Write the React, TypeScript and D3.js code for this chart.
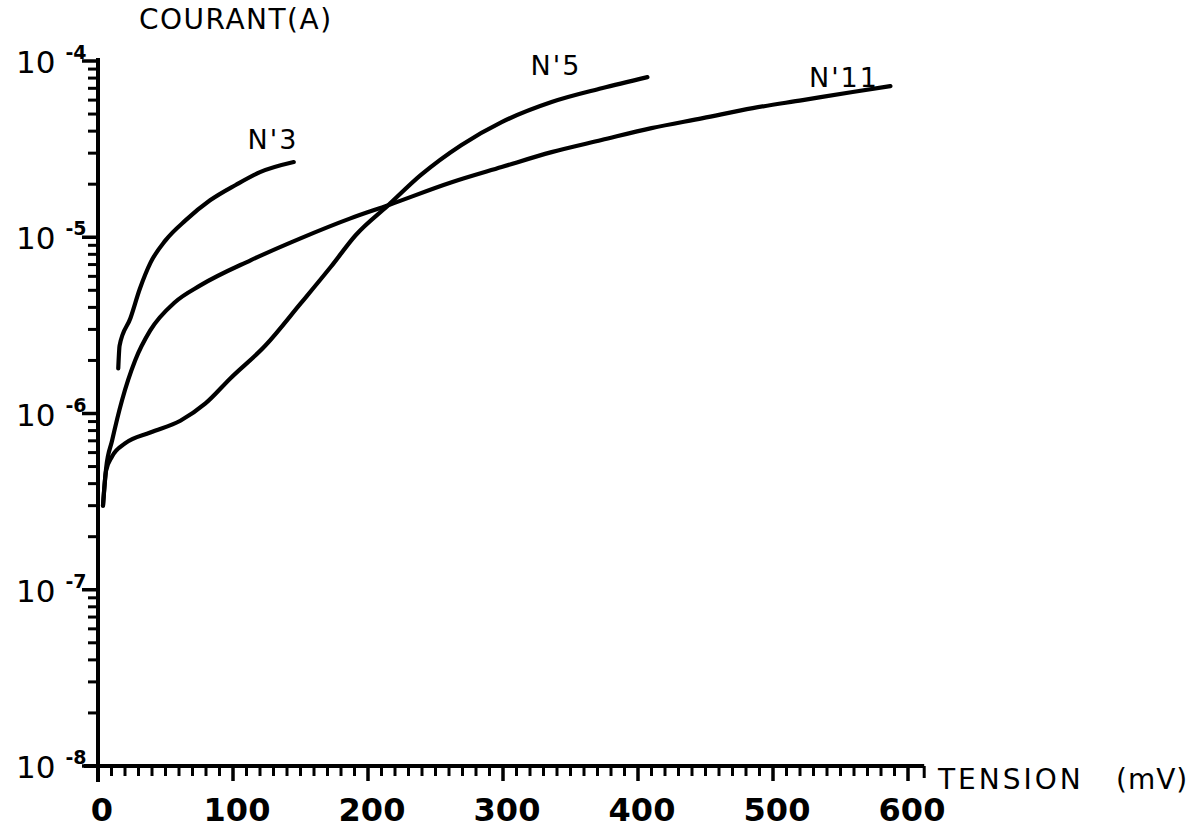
import * as d3 from 'd3';

type Pt = { v: number; i: number };

// tension (mV) / courant (A)
const n3Tension = [15, 16, 24, 31, 39, 50, 65, 83, 102, 120, 145];
const n3Courant = [1.8e-6, 2.43e-6, 3.47e-6, 5.1e-6, 7.2e-6, 9.6e-6, 1.25e-5, 1.62e-5, 1.98e-5, 2.34e-5, 2.67e-5];

const n5Tension = [3.7, 6, 10.4, 20, 38.7, 61, 79.6, 98, 124, 150, 172.5, 191, 215, 239, 269, 299, 336, 373, 407];
const n5Courant = [
  3.0e-7, 4.74e-7, 5.7e-7, 6.76e-7, 7.8e-7, 9.1e-7, 1.14e-6, 1.58e-6, 2.43e-6, 4.2e-6, 6.8e-6, 1.03e-5, 1.52e-5,
  2.25e-5, 3.33e-5, 4.5e-5, 5.85e-5, 7.0e-5, 8.1e-5,
];

const n11Tension = [3.7, 6, 10.4, 17.8, 27.5, 38.7, 57, 75.8, 113, 150, 187, 215, 262, 299, 336, 373, 410, 448, 485, 522, 559, 587];
const n11Courant = [
  3.0e-7, 4.87e-7, 7.0e-7, 1.19e-6, 2.0e-6, 2.96e-6, 4.28e-6, 5.33e-6, 7.4e-6, 9.86e-6, 1.28e-5, 1.52e-5, 2.05e-5,
  2.5e-5, 3.04e-5, 3.56e-5, 4.16e-5, 4.74e-5, 5.4e-5, 6.0e-5, 6.67e-5, 7.2e-5,
];

const curveLabels = ["N'3", "N'5", "N'11"];
const xTickLabels = [0, 100, 200, 300, 400, 500, 600];
const yExponents = [-4, -5, -6, -7, -8];

const font = '"DejaVu Sans", "Liberation Sans", sans-serif';

function zip(vs: number[], is: number[]): Pt[] {
  return vs.map((v, k) => ({ v, i: is[k] }));
}

export default function App() {
  const width = 1195;
  const height = 832;
  const x = d3.scaleLinear().domain([0, 600]).range([98, 908]);
  const y = d3.scaleLog().domain([1e-8, 1e-4]).range([766, 61]);

  const line = d3
    .line<Pt>()
    .x((d) => x(d.v))
    .y((d) => y(d.i))
    .curve(d3.curveMonotoneX);

  const series = [
    { name: curveLabels[0], pts: zip(n3Tension, n3Courant), lx: 273, ly: 149 },
    { name: curveLabels[1], pts: zip(n5Tension, n5Courant), lx: 556, ly: 75 },
    { name: curveLabels[2], pts: zip(n11Tension, n11Courant), lx: 844, ly: 87 },
  ];

  const yMinor = y.ticks().filter((t) => !yExponents.some((e) => Math.abs(Math.log10(t) - e) < 1e-6));
  const xMinor = d3.range(0, 601, 10).filter((t) => t % 100 !== 0);
  const x0 = x(0);
  const yb = y(1e-8);

  return (
    <svg width={width} height={height} style={{ display: 'block', position: 'absolute', left: 0, top: 0, background: '#fff' }}>
      <g stroke="#000" strokeLinecap="butt" fill="none">
        {/* axes */}
        <line x1={x0} x2={x0} y1={y(1e-4) - 3} y2={yb + 16} strokeWidth={4} />
        <line x1={x0 - 14} x2={x(612)} y1={yb} y2={yb} strokeWidth={4} />
        <line x1={x(612)} x2={x(612)} y1={yb} y2={yb + 12} strokeWidth={3} />
        {yExponents.map((e) => (
          <line key={e} x1={x0 - 16} x2={x0} y1={y(10 ** e)} y2={y(10 ** e)} strokeWidth={3.5} />
        ))}
        {yMinor.map((t) => (
          <line key={t} x1={x0 - 10} x2={x0} y1={y(t)} y2={y(t)} strokeWidth={3} />
        ))}
        {xMinor.map((t) => (
          <line key={t} x1={x(t)} x2={x(t)} y1={yb} y2={yb + 10} strokeWidth={3} />
        ))}
        {xTickLabels.map((t) => (
          <line key={t} x1={x(t)} x2={x(t)} y1={yb} y2={yb + 15} strokeWidth={3.5} />
        ))}
        {/* curves */}
        {series.map((s) => (
          <path key={s.name} d={line(s.pts) ?? ''} strokeWidth={4.2} strokeLinejoin="round" strokeLinecap="round" />
        ))}
      </g>
      <g fontFamily={font} fill="#000">
        {series.map((s) => (
          <text key={s.name} x={s.lx} y={s.ly} fontSize={27} textAnchor="middle" letterSpacing={2}>
            {s.name}
          </text>
        ))}
        {xTickLabels.map((t) => (
          <text key={t} x={x(t) + 4} y={yb + 55} fontSize={32} fontWeight="bold" textAnchor="middle">
            {t}
          </text>
        ))}
        {yExponents.map((e) => (
          <text key={e} x={16} y={y(10 ** e) + 12} fontSize={31}>
            10
            <tspan dx={10} dy={-14} fontSize={19} fontWeight="bold">
              {e}
            </tspan>
          </text>
        ))}
        <text x={139} y={29} fontSize={28} letterSpacing={1.5}>
          COURANT(A)
        </text>
        <text x={938} y={yb + 23} fontSize={28} letterSpacing={3}>
          TENSION
        </text>
        <text x={1116} y={yb + 23} fontSize={28} letterSpacing={1}>
          (mV)
        </text>
      </g>
    </svg>
  );
}
